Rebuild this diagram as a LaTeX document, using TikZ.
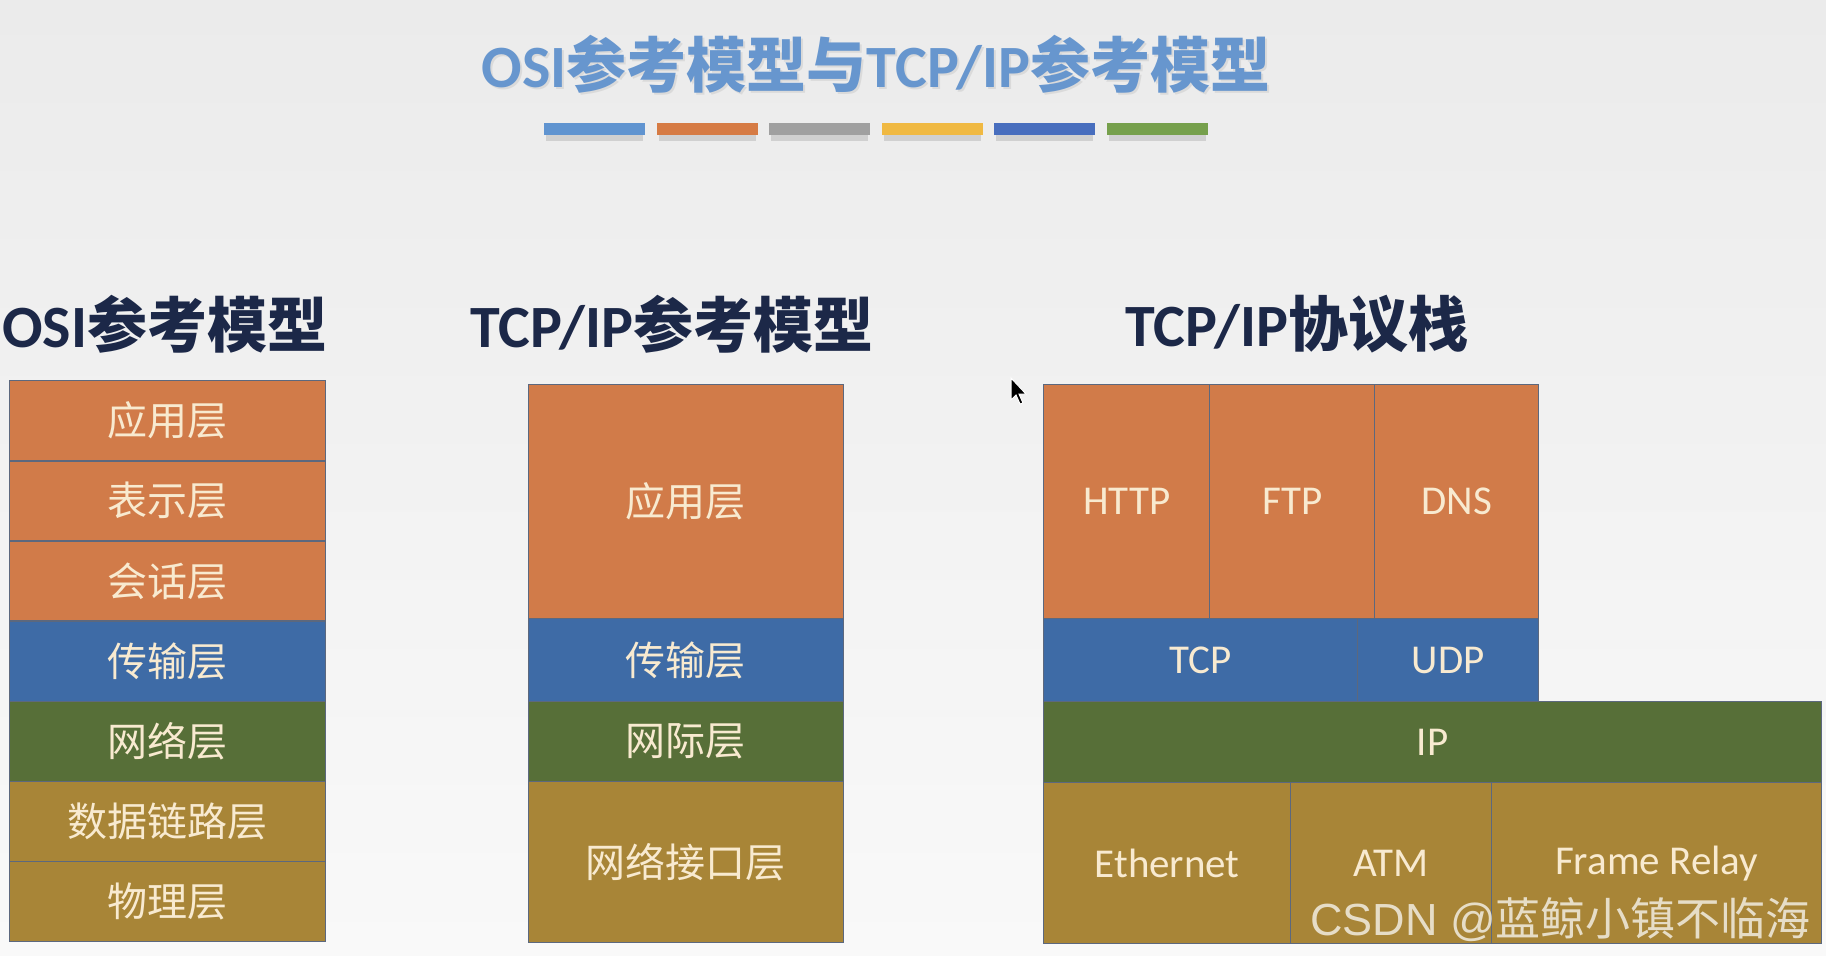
\documentclass[tikz,border=0pt]{standalone}
\usepackage{fontspec}
\setmainfont{Carlito}
\newfontfamily\cjk{Noto Sans CJK SC}
\newfontfamily\wmfont{Liberation Sans}
\definecolor{bgtop}{RGB}{235,235,235}
\definecolor{bgbot}{RGB}{249,249,249}
\definecolor{titleblue}{RGB}{103,150,206}
\definecolor{navy}{RGB}{28,40,72}
\definecolor{lorange}{RGB}{209,123,73}
\definecolor{lblue}{RGB}{62,107,166}
\definecolor{lgreen}{RGB}{87,111,56}
\definecolor{lgold}{RGB}{168,133,55}
\definecolor{edgecol}{RGB}{92,104,126}
\definecolor{txtcol}{RGB}{248,234,208}
\definecolor{barA}{RGB}{96,148,208}
\definecolor{barB}{RGB}{214,123,68}
\definecolor{barC}{RGB}{160,160,160}
\definecolor{barD}{RGB}{240,185,66}
\definecolor{barE}{RGB}{72,110,190}
\definecolor{barF}{RGB}{118,160,76}
\tikzset{
  layerbox/.style={draw=edgecol, line width=1.4bp, inner sep=0pt, anchor=north west, text=txtcol},
  cjktext/.style={font=\cjk\fontsize{40bp}{48bp}\selectfont},
  lattext/.style={font=\fontsize{41bp}{49bp}\selectfont},
  heading/.style={text=navy, font=\fontsize{60bp}{70bp}\selectfont\bfseries, inner sep=0pt},
  colorbar/.style={inner sep=0pt, minimum width=101bp, minimum height=12bp, anchor=north west},
  barshadow/.style={fill=black, opacity=0.12}
}
\begin{document}
\begin{tikzpicture}[x=1bp,y=-1bp]
\useasboundingbox (0,0) rectangle (1826,955);
\shade[top color=bgtop, bottom color=bgbot] (0,0) rectangle (1826,955);

% title
\node[text=black!30, opacity=0.3, font=\fontsize{60bp}{70bp}\selectfont\bfseries, inner sep=0pt] (titlesh) at (878,66) {OSI{\cjk 参考模型与}TCP/IP{\cjk 参考模型}};
\node[text=titleblue, font=\fontsize{60bp}{70bp}\selectfont\bfseries, inner sep=0pt] (title) at (876,64) {OSI{\cjk 参考模型与}TCP/IP{\cjk 参考模型}};

% colour bars
\foreach \i/\c in {0/barA,1/barB,2/barC,3/barD,4/barE,5/barF}{
  \fill[barshadow] (544+112.5*\i+2,135) rectangle (544+112.5*\i+99,141);
  \node[colorbar, fill=\c] (bar\i) at (544+112.5*\i,123) {};
}

% headings
\node[heading, anchor=west] (h1) at (2,324) {OSI{\cjk 参考模型}};
\node[heading] (h2) at (672,324) {TCP/IP{\cjk 参考模型}};
\node[heading] (h3) at (1297,324) {TCP/IP{\cjk 协议栈}};

% OSI model
\node[layerbox, cjktext, fill=lorange, minimum width=316bp, minimum height=80.15bp] (o1) at (9,380) {应用层};
\node[layerbox, cjktext, fill=lorange, minimum width=316bp, minimum height=80.15bp] (o2) at (9,460.15) {表示层};
\node[layerbox, cjktext, fill=lorange, minimum width=316bp, minimum height=80.15bp] (o3) at (9,540.3) {会话层};
\node[layerbox, cjktext, fill=lblue, minimum width=316bp, minimum height=80.15bp] (o4) at (9,620.45) {传输层};
\node[layerbox, cjktext, fill=lgreen, minimum width=316bp, minimum height=80.15bp] (o5) at (9,700.6) {网络层};
\node[layerbox, cjktext, fill=lgold, minimum width=316bp, minimum height=80.15bp] (o6) at (9,780.75) {数据链路层};
\node[layerbox, cjktext, fill=lgold, minimum width=316bp, minimum height=80.15bp] (o7) at (9,860.9) {物理层};

% TCP/IP model
\node[layerbox, cjktext, fill=lorange, minimum width=315.5bp, minimum height=234bp] (t1) at (527.5,384) {应用层};
\node[layerbox, cjktext, fill=lblue, minimum width=315.5bp, minimum height=83bp] (t2) at (527.5,618) {传输层};
\node[layerbox, cjktext, fill=lgreen, minimum width=315.5bp, minimum height=80bp] (t3) at (527.5,701) {网际层};
\node[layerbox, cjktext, fill=lgold, minimum width=315.5bp, minimum height=161bp] (t4) at (527.5,781) {网络接口层};

% TCP/IP protocol stack
\node[layerbox, lattext, fill=lorange, minimum width=166bp, minimum height=234bp] (http) at (1043,384) {HTTP};
\node[layerbox, lattext, fill=lorange, minimum width=165bp, minimum height=234bp] (ftp) at (1209,384) {FTP};
\node[layerbox, lattext, fill=lorange, minimum width=164bp, minimum height=234bp] (dns) at (1374,384) {DNS};
\node[layerbox, lattext, fill=lblue, minimum width=314bp, minimum height=83bp] (tcp) at (1043,618) {TCP};
\node[layerbox, lattext, fill=lblue, minimum width=181bp, minimum height=83bp] (udp) at (1357,618) {UDP};
\node[layerbox, lattext, fill=lgreen, minimum width=778bp, minimum height=81bp] (ip) at (1043,701) {IP};
\node[layerbox, lattext, fill=lgold, minimum width=247bp, minimum height=161bp] (eth) at (1043,782) {Ethernet};
\node[layerbox, lattext, fill=lgold, minimum width=201bp, minimum height=161bp] (atm) at (1290,782) {ATM};
\node[layerbox, lattext, fill=lgold, minimum width=330bp, minimum height=161bp] (fr) at (1491,782) {Frame Relay};

% mouse cursor
\draw[fill=black, draw=white, line width=1bp] (1011,378) -- (1011,400) -- (1016,395) -- (1020,404) -- (1023,403) -- (1019,394) -- (1026,394) -- cycle;

% watermark
\node[text=white, opacity=0.72, font=\fontsize{45bp}{54bp}\selectfont, inner sep=0pt, anchor=east] (wm) at (1811,920) {\wmfont CSDN @{\cjk 蓝鲸小镇不临海}};
\end{tikzpicture}
\end{document}
